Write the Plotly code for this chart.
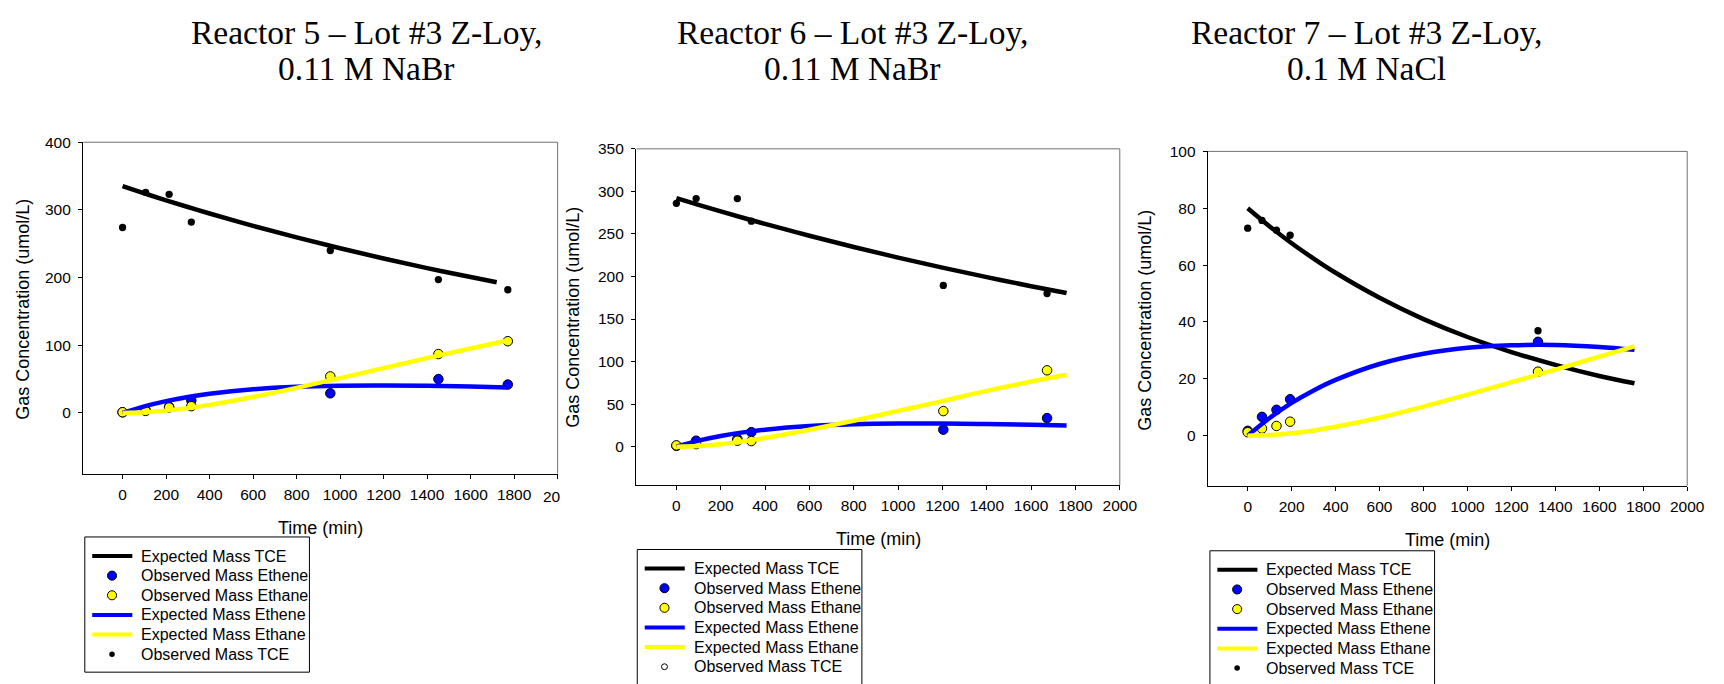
import plotly.graph_objects as go

W, H = 1724, 684
SANS = "Liberation Sans, Arial, sans-serif"
SERIF = "Liberation Serif, Times New Roman, serif"

# ---------------- Reactor 5 ----------------
r5_obs_time = [0, 106, 214, 316, 955, 1452, 1771]
r5_obs_tce = [274, 326, 323, 282, 240, 197, 182]
r5_obs_ethene = [1, 4, 9, 18.5, 29, 50, 42]
r5_obs_ethane = [1, 3, 8, 10, 54, 87, 106]
r5_fit_tce_time = [0, 100, 200, 300, 400, 600, 800, 1000, 1200, 1400, 1600, 1720]
r5_fit_tce = [335, 324.4, 314.2, 304.3, 294.7, 276.4, 259.3, 243.3, 228.2, 214.0, 200.8, 193.0]
r5_fit_time = [0, 100, 200, 300, 400, 600, 800, 1000, 1200, 1400, 1600, 1770]
r5_fit_ethene = [0, 9.7, 17.4, 23.6, 28.4, 35.0, 38.7, 40.3, 40.6, 40.0, 38.9, 37.6]
r5_fit_ethane = [0, 0.9, 3.4, 7.1, 11.9, 23.6, 37.0, 51.4, 66.2, 81.0, 95.3, 107.0]

# ---------------- Reactor 6 ----------------
r6_obs_time = [0, 89, 275, 338, 1204, 1672]
r6_obs_tce = [286, 291.6, 291.6, 265, 189.5, 180]
r6_obs_ethene = [1, 7, 9, 17, 20, 33.6]
r6_obs_ethane = [1.5, 3, 7, 6.6, 41.8, 89.7]
r6_fit_time = [0, 100, 200, 300, 400, 600, 800, 1000, 1200, 1400, 1600, 1760]
r6_fit_tce = [292, 284.1, 276.5, 269.0, 261.8, 247.9, 234.7, 222.2, 210.4, 199.2, 188.6, 180.6]
r6_fit_ethene = [0, 7.1, 12.6, 16.8, 20.0, 24.2, 26.3, 27.1, 27.1, 26.5, 25.7, 24.9]
r6_fit_ethane = [0, 0.8, 2.9, 6.2, 10.2, 19.9, 30.5, 42.0, 53.5, 65.5, 76.5, 84.5]

# ---------------- Reactor 7 ----------------
r7_obs_time = [0, 65, 131, 193, 1321]
r7_obs_tce = [73, 75.7, 72.3, 70.5, 36.9]
r7_obs_ethene = [1.7, 6.6, 9.1, 12.8, 33]
r7_obs_ethane = [1.2, 2.5, 3.4, 4.9, 22.5]
r7_fit_time = [0, 100, 200, 300, 400, 600, 800, 1000, 1200, 1400, 1600, 1760]
r7_fit_tce = [80, 73.6, 67.7, 62.3, 57.3, 48.5, 41.0, 34.7, 29.4, 24.9, 21.0, 18.4]
r7_fit_ethene = [0, 6.2, 11.5, 15.9, 19.6, 25.2, 28.8, 30.9, 31.8, 31.9, 31.2, 30.2]
r7_fit_ethane = [0, 0.2, 0.8, 1.8, 3.1, 6.3, 10.2, 14.4, 18.8, 23.2, 27.8, 31.4]

titles = [("Reactor 5 \u2013 Lot #3 Z-Loy,", "0.11 M NaBr"),
          ("Reactor 6 \u2013 Lot #3 Z-Loy,", "0.11 M NaBr"),
          ("Reactor 7 \u2013 Lot #3 Z-Loy,", "0.1 M NaCl")]
legend_labels = ["Expected Mass TCE", "Observed Mass Ethene", "Observed Mass Ethane",
                 "Expected Mass Ethene", "Expected Mass Ethane", "Observed Mass TCE"]
x_ticks = [0, 200, 400, 600, 800, 1000, 1200, 1400, 1600, 1800, 2000]
y_ticks = [[0, 100, 200, 300, 400],
           [0, 50, 100, 150, 200, 250, 300, 350],
           [0, 20, 40, 60, 80, 100]]
y_ranges = [[-89.5, 400], [-45, 350], [-17.7, 100]]
x_range = [-180, 2000]

# frame boxes in pixels: left, right, top, bottom
frames = [(84.3, 563.5, 135.0, 470.7),
          (643.2, 1131.6, 141.7, 482.3),
          (1220.9, 1705.0, 144.3, 483.3)]
title_cx = [370, 861, 1381]
ytitle_pos = [(23, 304), (579, 312), (1157, 315)]
xtitle_y = [526, 537, 538]
legend_box = [(85.7, 535.0), (644.0, 547.7), (1222.7, 549.0)]

BLUE = "#0000FF"
YELLOW = "#FFFF00"
FRAME_GRAY = "#707070"
LW = 4.5

panels = [
    (r5_obs_time, r5_obs_tce, r5_obs_ethene, r5_obs_ethane,
     r5_fit_tce_time, r5_fit_tce, r5_fit_time, r5_fit_ethene, r5_fit_ethane),
    (r6_obs_time, r6_obs_tce, r6_obs_ethene, r6_obs_ethane,
     r6_fit_time, r6_fit_tce, r6_fit_time, r6_fit_ethene, r6_fit_ethane),
    (r7_obs_time, r7_obs_tce, r7_obs_ethene, r7_obs_ethane,
     r7_fit_time, r7_fit_tce, r7_fit_time, r7_fit_ethene, r7_fit_ethane),
]

fig = go.Figure()
for i, (ot, otce, oene, oane, ftt, ftce, ft, fene, fane) in enumerate(panels):
    n = "" if i == 0 else str(i + 1)
    common = dict(xaxis="x" + n, yaxis="y" + n, showlegend=False)
    fig.add_trace(go.Scatter(x=ftt, y=ftce, mode="lines", line_shape="spline",
                             line=dict(color="black", width=LW),
                             name="Expected Mass TCE", **common))
    fig.add_trace(go.Scatter(x=ot, y=oene, mode="markers",
                             marker=dict(color=BLUE, size=9.5, line=dict(color="black", width=1)),
                             name="Observed Mass Ethene", **common))
    fig.add_trace(go.Scatter(x=ot, y=oane, mode="markers",
                             marker=dict(color=YELLOW, size=9.5, line=dict(color="black", width=1)),
                             name="Observed Mass Ethane", **common))
    fig.add_trace(go.Scatter(x=ft, y=fene, mode="lines", line_shape="spline",
                             line=dict(color=BLUE, width=LW),
                             name="Expected Mass Ethene", **common))
    fig.add_trace(go.Scatter(x=ft, y=fane, mode="lines", line_shape="spline",
                             line=dict(color=YELLOW, width=LW),
                             name="Expected Mass Ethane", **common))
    fig.add_trace(go.Scatter(x=ot, y=otce, mode="markers",
                             marker=dict(color="black", size=7.3),
                             name="Observed Mass TCE", **common))

axis_style = dict(showline=True, linecolor="black", linewidth=1, mirror=False,
                  ticks="outside", ticklen=4.5, tickwidth=1, tickcolor="black",
                  showgrid=False, zeroline=False,
                  tickfont=dict(family=SANS, size=15.5, color="black"))

annotations = []
shapes = []


def px(x):
    return x / W


def py(y):
    return 1 - y / H


def text(s, x, y, size, family=SANS, xanchor="center", angle=0):
    annotations.append(dict(text=s, x=px(x), y=py(y), xref="paper", yref="paper",
                            showarrow=False, xanchor=xanchor, yanchor="middle",
                            textangle=angle,
                            font=dict(family=family, size=size, color="black")))


layout = dict(width=W, height=H, margin=dict(l=0, r=0, t=0, b=0),
              autosize=False, paper_bgcolor="white", plot_bgcolor="white",
              showlegend=False)

for i in range(3):
    n = "" if i == 0 else str(i + 1)
    l, r, t, b = frames[i]
    xt_text = [str(v) for v in x_ticks]
    if i == 0:
        xt_text[-1] = ""
    layout["xaxis" + n] = dict(axis_style, domain=[px(l), px(r)], range=x_range,
                               tickvals=x_ticks, ticktext=xt_text,
                               anchor="y" + n, ticklabelstandoff=2)
    layout["yaxis" + n] = dict(axis_style, domain=[py(b), py(t)], range=y_ranges[i],
                               tickvals=y_ticks[i], anchor="x" + n, ticklabelstandoff=4)

    # top and right edges of the frame are drawn in a lighter grey
    shapes.append(dict(type="line", xref="paper", yref="paper",
                       x0=px(l), x1=px(r), y0=py(t), y1=py(t),
                       line=dict(color=FRAME_GRAY, width=1)))
    shapes.append(dict(type="line", xref="paper", yref="paper",
                       x0=px(r), x1=px(r), y0=py(t), y1=py(b),
                       line=dict(color=FRAME_GRAY, width=1)))

    # two-line panel heading
    text(titles[i][0], title_cx[i], 24, 33.5, SERIF)
    text(titles[i][1], title_cx[i], 60.5, 33.5, SERIF)
    # axis titles
    yx, yy = ytitle_pos[i]
    text("Gas Concentration (umol/L)", yx, yy, 18, angle=-90)
    text("Time (min)", (l + r) / 2, xtitle_y[i], 18)

    # legend block
    bx, by = legend_box[i]
    shapes.append(dict(type="rect", xref="paper", yref="paper",
                       x0=px(bx), x1=px(bx + 227), y0=py(by + 137), y1=py(by),
                       line=dict(color="black", width=1), fillcolor="white", layer="above"))
    rows = [by + 19.3 + 19.9 * k for k in range(6)]
    key_x0, key_x1 = bx + 7.5, bx + 48
    key_cx = bx + 27.5
    for k, yk in enumerate(rows):
        text(legend_labels[k], bx + 55, yk, 16, xanchor="left")
    for k, col in ((0, "black"), (3, BLUE), (4, YELLOW)):
        shapes.append(dict(type="line", xref="paper", yref="paper",
                           x0=px(key_x0), x1=px(key_x1), y0=py(rows[k]), y1=py(rows[k]),
                           line=dict(color=col, width=4), layer="above"))
    for k, col, rad, outline in ((1, BLUE, 4.6, 1), (2, YELLOW, 4.6, 1)):
        shapes.append(dict(type="circle", xref="paper", yref="paper",
                           x0=px(key_cx - rad), x1=px(key_cx + rad),
                           y0=py(rows[k] + rad), y1=py(rows[k] - rad),
                           fillcolor=col, line=dict(color="black", width=outline), layer="above"))
    if i == 1:
        # Reactor 6 keys its TCE observations with an open circle
        shapes.append(dict(type="circle", xref="paper", yref="paper",
                           x0=px(key_cx - 3), x1=px(key_cx + 3),
                           y0=py(rows[5] + 3), y1=py(rows[5] - 3),
                           fillcolor="white", line=dict(color="black", width=1), layer="above"))
    else:
        shapes.append(dict(type="circle", xref="paper", yref="paper",
                           x0=px(key_cx - 2.8), x1=px(key_cx + 2.8),
                           y0=py(rows[5] + 2.8), y1=py(rows[5] - 2.8),
                           fillcolor="black", line=dict(color="black", width=0), layer="above"))

# Reactor 5's last time label is cut short at the panel edge
text("20", frames[0][1] - 17, 493.5, 15.5, xanchor="left")

layout["annotations"] = annotations
layout["shapes"] = shapes
fig.update_layout(**layout)
fig.write_html("out.html")
